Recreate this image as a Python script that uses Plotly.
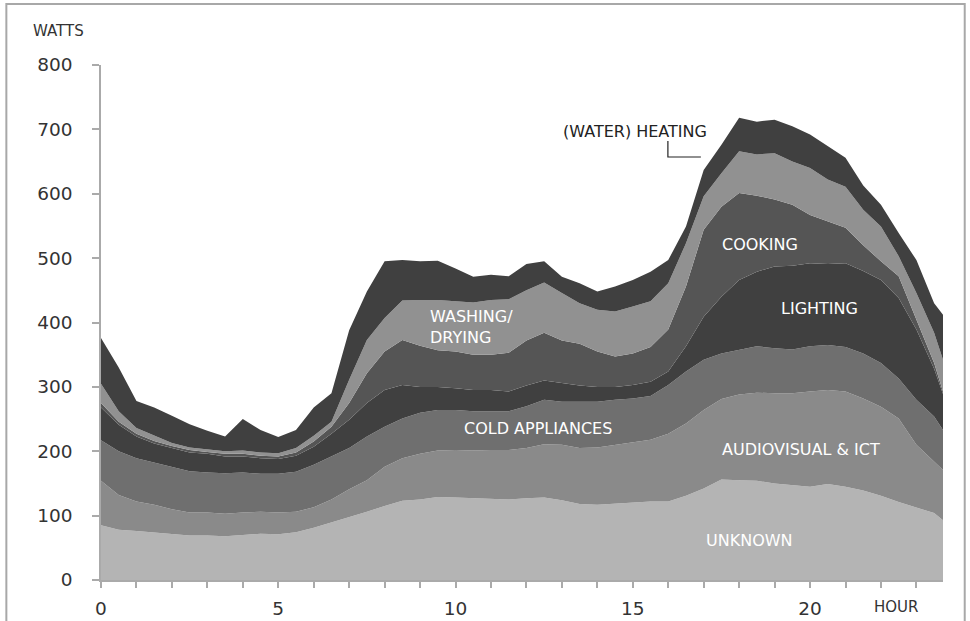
import plotly.graph_objects as go

hours = [0, 0.5, 1, 1.5, 2, 2.5, 3, 3.5, 4, 4.5, 5, 5.5, 6, 6.5, 7, 7.5, 8, 8.5,
         9, 9.5, 10, 10.5, 11, 11.5, 12, 12.5, 13, 13.5, 14, 14.5, 15, 15.5, 16,
         16.5, 17, 17.5, 18, 18.5, 19, 19.5, 20, 20.5, 21, 21.5, 22, 22.5, 23,
         23.5, 23.75]

unknown = [85, 78, 76, 74, 72, 69, 69, 68, 70, 72, 71, 74, 81, 89, 98, 106, 115, 123,
           125, 129, 128, 127, 127, 125, 127, 128, 124, 118, 117, 119, 120, 122, 122,
           131, 142, 156, 155, 154, 150, 148, 145, 149, 145, 139, 131, 121, 112,
           104, 93]
audiovisual = [69, 54, 46, 43, 38, 36, 36, 35, 35, 34, 34, 32, 32, 36, 43, 49, 61, 66,
               71, 72, 74, 74, 75, 77, 78, 83, 86, 87, 89, 91, 93, 96, 105,
               112, 122, 125, 133, 137, 140, 142, 148, 146, 148, 143, 138, 130, 98,
               81, 78]
cold = [63, 68, 67, 65, 65, 64, 62, 63, 62, 59, 60, 62, 66, 67, 64, 68, 62, 62,
        64, 63, 62, 61, 60, 60, 65, 69, 67, 72, 71, 70, 69, 68, 76,
        81, 78, 71, 70, 72, 70, 68, 70, 70, 69, 70, 68, 62, 70,
        69, 62]
lighting = [51, 41, 34, 30, 30, 29, 29, 26, 25, 24, 23, 25, 28, 35, 44, 52, 57, 52,
            40, 36, 34, 33, 33, 31, 32, 30, 29, 25, 23, 20, 21, 22, 21,
            39, 67, 88, 108, 116, 127, 130, 129, 126, 130, 128, 129, 125, 109,
            74, 56]
cooking = [7, 5, 4, 4, 3, 4, 3, 4, 4, 4, 4, 5, 8, 11, 26, 46, 60, 70,
           64, 57, 57, 55, 55, 60, 70, 74, 66, 65, 55, 47, 49, 54, 65,
           93, 135, 140, 135, 118, 104, 95, 75, 66, 55, 40, 29, 34, 15,
           9, 4]
washing = [30, 16, 9, 8, 5, 4, 4, 4, 5, 5, 5, 7, 9, 8, 36, 52, 52, 61,
           71, 78, 78, 81, 85, 83, 78, 78, 74, 63, 65, 70, 73, 71, 72,
           67, 52, 52, 65, 64, 72, 67, 73, 65, 64, 55, 54, 31, 42,
           47, 49]
heating = [71, 68, 42, 44, 42, 36, 29, 23, 49, 35, 25, 28, 44, 44, 77, 75, 88, 63,
           60, 61, 51, 40, 39, 36, 41, 33, 25, 31, 28, 39, 41, 46, 36,
           26, 41, 44, 52, 51, 52, 55, 52, 52, 45, 38, 34, 36, 51,
           46, 70]

series = [
    ("UNKNOWN", unknown, "#b4b4b4"),
    ("AUDIOVISUAL & ICT", audiovisual, "#8a8a8a"),
    ("COLD APPLIANCES", cold, "#6f6f6f"),
    ("LIGHTING", lighting, "#404040"),
    ("COOKING", cooking, "#555555"),
    ("WASHING/DRYING", washing, "#919191"),
    ("(WATER) HEATING", heating, "#404040"),
]

y_ticks = [0, 100, 200, 300, 400, 500, 600, 700, 800]
x_ticks = list(range(0, 24))
x_labels = [str(h) if h % 5 == 0 else "" for h in x_ticks]

FONT = "DejaVu Sans"

fig = go.Figure()
for name, vals, col in series:
    fig.add_trace(go.Scatter(
        x=hours, y=vals, name=name, mode="lines", stackgroup="one",
        line=dict(width=0, color=col), fillcolor=col, hoverinfo="skip",
    ))

fig.update_layout(
    width=970, height=621,
    margin=dict(l=101, r=27, t=65, b=41),
    paper_bgcolor="white", plot_bgcolor="white",
    showlegend=False,
    font=dict(family=FONT, color="#333333"),
    xaxis=dict(
        range=[0, 23.75], showgrid=False, zeroline=False, automargin=False,
        showline=True, linecolor="#aaaaaa", linewidth=1.5,
        ticks="outside", ticklen=6, tickcolor="#aaaaaa", tickwidth=1.5,
        tickvals=x_ticks, ticktext=x_labels,
        tickfont=dict(size=18.5, color="#333333", family=FONT),
        ticklabelstandoff=5,
    ),
    yaxis=dict(
        range=[0, 800], showgrid=False, zeroline=False, automargin=False,
        showline=True, linecolor="#aaaaaa", linewidth=1.5,
        ticks="outside", ticklen=7, tickcolor="#aaaaaa", tickwidth=1.5,
        tickvals=y_ticks,
        tickfont=dict(size=18.5, color="#333333", family=FONT),
        ticklabelstandoff=16,
    ),
)

# outer frame
fig.add_shape(type="rect", xref="paper", yref="paper",
              x0=-0.1124, x1=1.0258, y0=-0.15, y1=1.1184,
              line=dict(color="#a8a8a8", width=2), fillcolor="rgba(0,0,0,0)")

# leader line for heating label
fig.add_shape(type="path", xref="paper", yref="paper",
              path="M {0},{1} L {0},{2} L {3},{2}".format(
                  (668 - 100.7) / 842.6, (580 - 141) / 515,
                  (580 - 157) / 515, (701 - 100.7) / 842.6),
              line=dict(color="#222222", width=1.2))

def ann(text, xpx, ypx, color="white", size=16, align="center", xanchor="center"):
    fig.add_annotation(
        x=(xpx - 100.7) / 842.6, y=(580 - ypx) / 515, xref="paper", yref="paper",
        text=text, showarrow=False, xanchor=xanchor, yanchor="middle", align=align,
        font=dict(size=size, color=color, family=FONT),
    )

ann("WATTS", 58, 31, color="#333333", size=15)
ann("HOUR", 897, 607, color="#333333", size=15)
ann("(WATER) HEATING", 635, 131, color="#222222", size=16)
ann("WASHING/<br>DRYING", 428, 327, size=16, align="left", xanchor="left")
ann("COLD APPLIANCES", 538, 428, size=16)
ann("COOKING", 760, 244, size=16)
ann("LIGHTING", 820, 308, size=16)
ann("AUDIOVISUAL & ICT", 801, 449, size=16)
ann("UNKNOWN", 750, 540, size=16)

fig.write_html("out.html", config={"displayModeBar": False},
               post_script="document.body.style.margin='0';")
